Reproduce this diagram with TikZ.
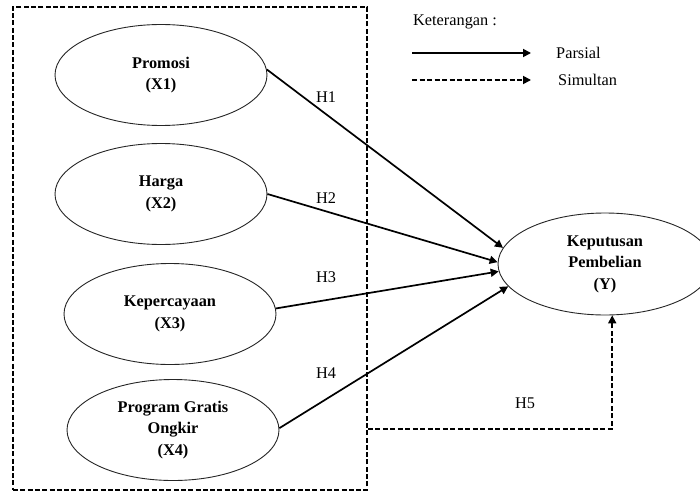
\documentclass[tikz,border=0pt]{standalone}
\usepackage{fontspec}
\setmainfont{Liberation Serif}
\usetikzlibrary{shapes.geometric,arrows.meta}
\begin{document}
\begin{tikzpicture}[x=1pt,y=-1pt,
  var/.style={ellipse,draw=black!85,line width=0.9pt,inner sep=0pt,
    minimum width=212pt,minimum height=101pt,align=center,
    font=\fontsize{16.3}{21.5}\selectfont\bfseries},
  lbl/.style={font=\fontsize{16.3}{19}\selectfont,inner sep=0pt},
  solidarrow/.style={line width=1.7pt,-{Triangle[length=8pt,width=8pt]}},
  dasharrow/.style={line width=1.7pt,dash pattern=on 5pt off 2.5pt,-{Triangle[length=8pt,width=8pt]}},
  grpbox/.style={draw,line width=1.6pt,dash pattern=on 5pt off 2.3pt,inner sep=0pt}
]
\useasboundingbox (0,0) rectangle (700,492);
\clip (0,0) rectangle (700,492);

% group frame
\node[grpbox,minimum width=354pt,minimum height=483pt] (grp) at (190,248.5) {};

% variables
\node[var] (X1) at (161,75) {Promosi\\(X1)};
\node[var] (X2) at (161,194) {Harga\\(X2)};
\node[var] (X3) at (170,314) {Kepercayaan\\(X3)};
\node[var] (X4) at (173,430) {Program Gratis\\Ongkir\\(X4)};
\node[var,minimum width=214pt,minimum height=102pt] (Y) at (605,264) {Keputusan\\Pembelian\\(Y)};

% partial arrows
\draw[solidarrow] (X1.3) -- (Y.171.5);
\draw[solidarrow] (X2.0.5) -- (Y.179);
\draw[solidarrow] (X3.3) -- (Y.184.5);
\draw[solidarrow] (X4.1) -- (Y.193.5);

\node[lbl] (h1) at (326,97) {H1};
\node[lbl] (h2) at (326,198) {H2};
\node[lbl] (h3) at (326,277) {H3};
\node[lbl] (h4) at (326,373) {H4};

% simultaneous arrow
\coordinate (s5) at (grp.east |- 0,429);
\draw[dasharrow] (s5) -| (Y.278);
\node[lbl] (h5) at (525,403) {H5};

% legend
\node[lbl,anchor=west] (ket) at (413,22) {Keterangan :};
\coordinate (pa) at (412,53);
\coordinate (pb) at (531,53);
\coordinate (sa) at (412,80);
\coordinate (sb) at (531,80);
\draw[solidarrow] (pa) -- (pb);
\draw[dasharrow] (sa) -- (sb);
\node[lbl,anchor=west] (parsial) at (556,53) {Parsial};
\node[lbl,anchor=west] (simultan) at (558,80) {Simultan};
\end{tikzpicture}
\end{document}
